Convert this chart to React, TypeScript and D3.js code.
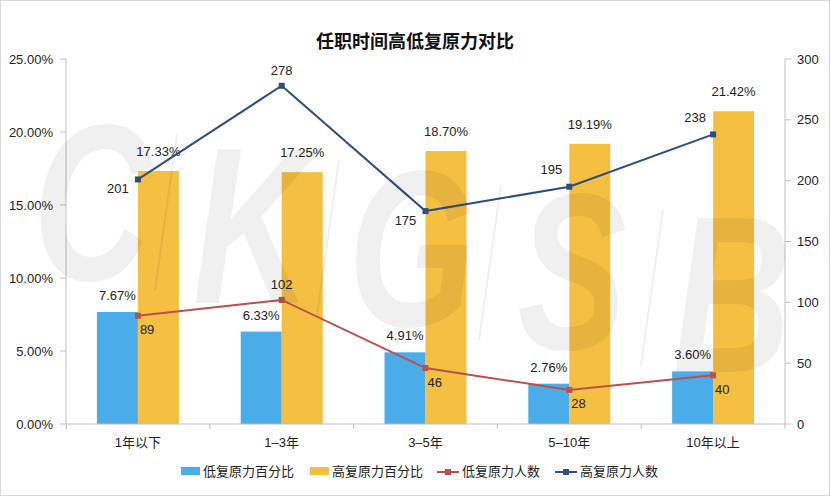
import React, { useEffect } from 'react';
import * as d3 from 'd3';

// chart data
const categories = ['1年以下', '1–3年', '3–5年', '5–10年', '10年以上'];
const lowPct = [7.67, 6.33, 4.91, 2.76, 3.6];
const highPct = [17.33, 17.25, 18.7, 19.19, 21.42];
const lowCount = [89, 102, 46, 28, 40];
const highCount = [201, 278, 175, 195, 238];
const leftTicks = [0, 5, 10, 15, 20, 25];
const rightTicks = [0, 50, 100, 150, 200, 250, 300];

// where each line label sits relative to its point
const highLabelPos = ['belowLeft', 'above', 'belowLeft', 'aboveLeft', 'aboveLeft'];
const lowLabelPos = ['belowRight', 'above', 'belowRight', 'belowRight', 'belowRight'];

const W = 830;
const H = 496;
const m = { left: 66, right: 785, top: 59, bottom: 424 };

const BLUE = '#4aade9';
const ORANGE = '#f5bf42';
const RED = '#bc504b';
const NAVY = '#2c4e80';
const AXIS = '#bfbfbf';
const FONT = "Helvetica, Arial, 'Liberation Sans', 'Noto Sans CJK SC', sans-serif";

const offsets: any = {
  above: { dx: 0, dy: -15, anchor: 'middle' },
  belowLeft: { dx: -20, dy: 9, anchor: 'middle' },
  aboveLeft: { dx: -18, dy: -17, anchor: 'middle' },
  belowRight: { dx: 2, dy: 14, anchor: 'start' },
};

const App = () => {
  useEffect(() => {
    document.body.style.margin = '0';
  }, []);

  const x = d3.scaleBand().domain(categories).range([m.left, m.right]);
  const yL = d3.scaleLinear().domain([0, 25]).range([m.bottom, m.top]);
  const yR = d3.scaleLinear().domain([0, 300]).range([m.bottom, m.top]);
  const barW = x.bandwidth() * 0.285;
  const cx = (c: string) => (x(c) as number) + x.bandwidth() / 2;

  const line: any = d3
    .line<number>()
    .x((_d, i) => cx(categories[i]))
    .y((d) => yR(d));

  const watermark = ['C', 'K', 'G', 'S', 'B'];
  const wmFill = 'rgba(0,0,0,0.06)';

  const lineSeries = [
    { values: highCount, color: NAVY, pos: highLabelPos },
    { values: lowCount, color: RED, pos: lowLabelPos },
  ];

  const legend = [
    { label: '低复原力百分比', color: BLUE, type: 'bar', x: 181 },
    { label: '高复原力百分比', color: ORANGE, type: 'bar', x: 310 },
    { label: '低复原力人数', color: RED, type: 'line', x: 437 },
    { label: '高复原力人数', color: NAVY, type: 'line', x: 555 },
  ];

  return (
    <svg width={W} height={H} style={{ display: 'block', fontFamily: FONT }}>
      <rect x={0.5} y={0.5} width={W - 1} height={H - 1} fill="#fff" stroke="#d9d9d9" />
      <text x={W / 2} y={48} textAnchor="middle" fontSize={18} fontWeight="bold" fill="#111">
        任职时间高低复原力对比
      </text>

      {/* bars */}
      {categories.map((c, i) => (
        <g key={c}>
          <rect x={cx(c) - barW} y={yL(lowPct[i])} width={barW} height={m.bottom - yL(lowPct[i])} fill={BLUE} />
          <rect x={cx(c)} y={yL(highPct[i])} width={barW} height={m.bottom - yL(highPct[i])} fill={ORANGE} />
          <text x={cx(c) - barW / 2} y={yL(lowPct[i]) - 12} textAnchor="middle" fontSize={13} fill="#222">
            {lowPct[i].toFixed(2)}%
          </text>
          <text x={cx(c) + barW / 2} y={yL(highPct[i]) - 15} textAnchor="middle" fontSize={13} fill="#222">
            {highPct[i].toFixed(2)}%
          </text>
        </g>
      ))}

      {/* axes */}
      <line x1={m.left} x2={m.left} y1={m.top} y2={m.bottom} stroke={AXIS} />
      <line x1={m.right} x2={m.right} y1={m.top} y2={m.bottom} stroke={AXIS} />
      <line x1={m.left} x2={m.right} y1={m.bottom} y2={m.bottom} stroke={AXIS} />
      {leftTicks.map((t) => (
        <g key={'l' + t}>
          <line x1={m.left - 6} x2={m.left} y1={yL(t)} y2={yL(t)} stroke={AXIS} />
          <text x={53} y={yL(t)} dy="0.35em" textAnchor="end" fontSize={13} fill="#222">
            {t.toFixed(2)}%
          </text>
        </g>
      ))}
      {rightTicks.map((t) => (
        <g key={'r' + t}>
          <line x1={m.right} x2={m.right + 6} y1={yR(t)} y2={yR(t)} stroke={AXIS} />
          <text x={797} y={yR(t)} dy="0.35em" textAnchor="start" fontSize={13} fill="#222">
            {t}
          </text>
        </g>
      ))}
      {categories.map((c, i) => (
        <g key={'x' + c}>
          <line x1={(x(c) as number) + (i === 0 ? 0.5 : 0)} x2={(x(c) as number) + (i === 0 ? 0.5 : 0)} y1={m.bottom} y2={m.bottom + 5} stroke={AXIS} />
          <text x={cx(c)} y={447} textAnchor="middle" fontSize={13} fill="#222">
            {c}
          </text>
        </g>
      ))}
      <line x1={m.right} x2={m.right} y1={m.bottom} y2={m.bottom + 5} stroke={AXIS} />

      {/* lines */}
      {lineSeries.map((s, k) => (
        <g key={'s' + k}>
          <path d={line(s.values)} fill="none" stroke={s.color} strokeWidth={2} />
          {s.values.map((v, i) => {
            const px = cx(categories[i]);
            const py = yR(v);
            const o = offsets[s.pos[i]];
            return (
              <g key={i}>
                <rect x={px - 3} y={py - 3} width={6} height={6} fill={s.color} />
                <text x={px + o.dx} y={py + o.dy} dy="0.35em" textAnchor={o.anchor} fontSize={13} fill="#222">
                  {v}
                </text>
              </g>
            );
          })}
        </g>
      ))}

      {/* watermark: condensed italic letters stepping down, thin slashes between */}
      <g fill={wmFill}>
        {watermark.map((l, i) => (
          <text
            key={l}
            transform={`translate(${92 + i * 160},${280 + i * 23}) scale(0.74,1)`}
            textAnchor="middle"
            fontSize={222}
            fontWeight="bold"
            fontStyle="italic"
            fontFamily="'Liberation Sans', Arial, sans-serif"
          >
            {l}
          </text>
        ))}
        {[0, 1, 2, 3].map((i) => (
          <line
            key={i}
            x1={177 + i * 162}
            y1={135 + i * 25}
            x2={155 + i * 162}
            y2={290 + i * 25}
            stroke={wmFill}
            strokeWidth={2}
          />
        ))}
      </g>

      {/* legend */}
      {legend.map((d) => (
        <g key={d.label}>
          {d.type === 'bar' ? (
            <rect x={d.x} y={467} width={19} height={8} fill={d.color} />
          ) : (
            <g>
              <line x1={d.x} x2={d.x + 22} y1={472} y2={472} stroke={d.color} strokeWidth={2} />
              <rect x={d.x + 8} y={469} width={6} height={6} fill={d.color} />
            </g>
          )}
          <text x={d.x + (d.type === 'bar' ? 22 : 25)} y={471} dy="0.35em" fontSize={13} fill="#222">
            {d.label}
          </text>
        </g>
      ))}
    </svg>
  );
};

export default App;
